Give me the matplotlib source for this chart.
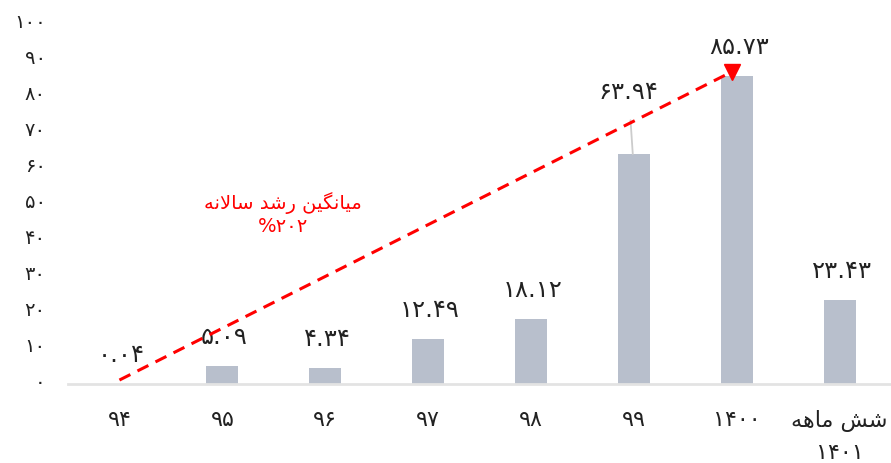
import matplotlib
matplotlib.use('Agg')
import matplotlib.pyplot as plt
import matplotlib.transforms as mtransforms

# Persian text needs shaping by hand (matplotlib does no bidi / joining)
FORMS = {  # isolated, final, initial, medial
    'ا': ('\uFE8D', '\uFE8E', None, None),
    'د': ('\uFEA9', '\uFEAA', None, None),
    'ر': ('\uFEAD', '\uFEAE', None, None),
    'س': ('\uFEB1', '\uFEB2', '\uFEB3', '\uFEB4'),
    'ش': ('\uFEB5', '\uFEB6', '\uFEB7', '\uFEB8'),
    'ل': ('\uFEDD', '\uFEDE', '\uFEDF', '\uFEE0'),
    'م': ('\uFEE1', '\uFEE2', '\uFEE3', '\uFEE4'),
    'ن': ('\uFEE5', '\uFEE6', '\uFEE7', '\uFEE8'),
    'ه': ('\uFEE9', '\uFEEA', '\uFEEB', '\uFEEC'),
    'ی': ('\uFBFC', '\uFBFD', '\uFBFE', '\uFBFF'),
    'گ': ('\uFB92', '\uFB93', '\uFB94', '\uFB95'),
}

def dual(c):
    return c in FORMS and FORMS[c][2] is not None

def fa(s):
    out = []
    i = 0
    while i < len(s):
        c = s[i]
        prev = s[i-1] if i > 0 else ''
        if c not in FORMS:
            out.append(c); i += 1; continue
        join_prev = dual(prev)
        if c == 'ل' and i + 1 < len(s) and s[i+1] == 'ا':
            out.append('\uFEFC' if join_prev else '\uFEFB'); i += 2; continue
        nxt = s[i+1] if i + 1 < len(s) else ''
        join_next = dual(c) and nxt in FORMS
        iso, fin, ini, med = FORMS[c]
        if join_prev and join_next:
            out.append(med)
        elif join_prev:
            out.append(fin)
        elif join_next:
            out.append(ini)
        else:
            out.append(iso)
        i += 1
    return ''.join(reversed(out))

categories = ['۹۴', '۹۵', '۹۶', '۹۷', '۹۸', '۹۹', '۱۴۰۰', fa('شش ماهه') + '\n۱۴۰۱']
values = [0.04, 5.09, 4.34, 12.49, 18.12, 63.94, 85.73, 23.43]
value_labels = ['۰.۰۴', '۵.۰۹', '۴.۳۴', '۱۲.۴۹', '۱۸.۱۲', '۶۳.۹۴', '۸۵.۷۳', '۲۳.۴۳']
yticks = [0, 10, 20, 30, 40, 50, 60, 70, 80, 90, 100]
ytick_labels = ['۰', '۱۰', '۲۰', '۳۰', '۴۰', '۵۰', '۶۰', '۷۰', '۸۰', '۹۰', '۱۰۰']
trend_text = fa('میانگین رشد سالانه') + '\n%۲۰۲'
trend_start = (0.0, 1.1)
trend_end = (5.95, 86.8)

plt.rcParams['font.family'] = ['DejaVu Sans']

fig = plt.figure(figsize=(8.91, 4.63), dpi=100)
ax = fig.add_axes([68/891, 1 - 384/463, 823/891, 359.5/463])

x = list(range(len(categories)))
ax.bar(x, values, width=0.31, color='#B8BFCC', zorder=2)
ax.set_xlim(-0.5, len(categories) - 0.5)
ax.set_ylim(0, 100)

for i, (v, lab) in enumerate(zip(values, value_labels)):
    if i == 5:
        ax.annotate(lab, xy=(i - 0.01, v), xytext=(-3, 45), textcoords='offset points',
                    ha='center', va='center', fontsize=17.5, color='#222222',
                    arrowprops=dict(arrowstyle='-', color='#CCCCCC', lw=1.3, shrinkA=10, shrinkB=0))
    else:
        ax.annotate(lab, xy=(i + 0.02, v), xytext=(0, 21), textcoords='offset points',
                    ha='center', va='center', fontsize=17.5, color='#222222')

# trend arrow
ax.plot([trend_start[0], trend_end[0]], [trend_start[1], trend_end[1]],
        color='#FF0000', lw=2.2, ls=(0, (4, 2.6)), zorder=3)
ax.plot([trend_end[0]], [trend_end[1]], marker='v', markersize=12,
        color='#FF0000', zorder=4, clip_on=False)
ax.text(1.59, 47.4, trend_text, ha='center', va='center', fontsize=14,
        color='#FF0000', linespacing=1.2)

ax.set_yticks(yticks)
ax.set_yticklabels(ytick_labels, fontsize=14, color='#222222')
ax.set_xticks(x)
ax.set_xticklabels(categories, fontsize=16, linespacing=1.65, color='#222222')
ax.tick_params(axis='y', length=0, pad=16)
ax.tick_params(axis='x', length=0, pad=19)
shift = mtransforms.ScaledTranslation(0, 4/100, fig.dpi_scale_trans)
for lab in ax.get_yticklabels():
    lab.set_transform(lab.get_transform() + shift)

for s in ['top', 'right', 'left']:
    ax.spines[s].set_visible(False)
ax.spines['bottom'].set_color('#E3E3E3')
ax.spines['bottom'].set_linewidth(2)

fig.savefig('out.png', dpi=100)
